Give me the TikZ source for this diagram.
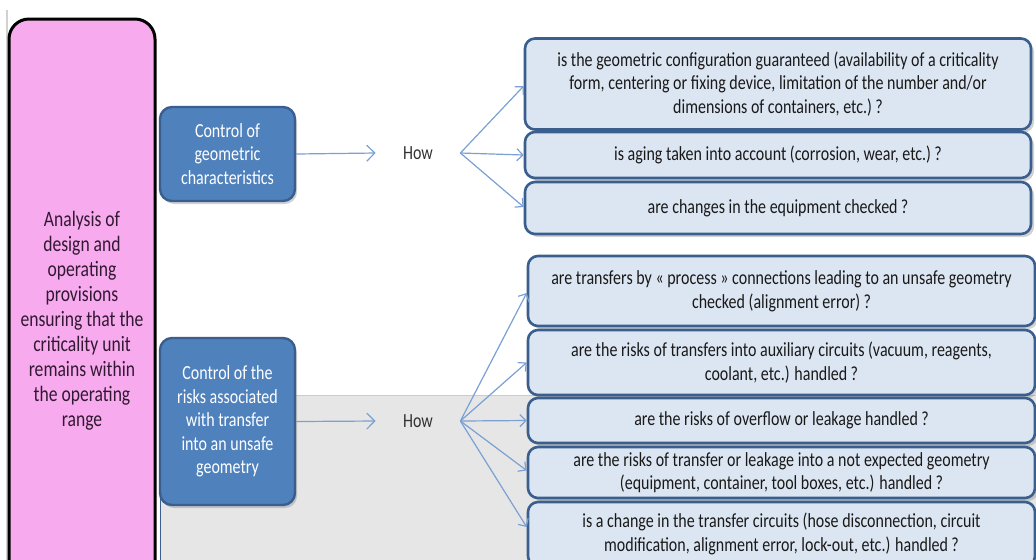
\documentclass[tikz,border=0pt]{standalone}
\usepackage{fontspec}
\setmainfont{Carlito}[FakeStretch=0.8]
\usetikzlibrary{arrows.meta,shadows}
\definecolor{pinkbox}{RGB}{247,171,238}
\definecolor{pinktext}{RGB}{50,25,50}
\definecolor{bluebox}{RGB}{79,129,189}
\definecolor{blueline}{RGB}{58,95,142}
\definecolor{lightbox}{RGB}{220,230,242}
\definecolor{arrowblue}{RGB}{122,160,212}
\definecolor{grayarea}{RGB}{230,230,230}

\begin{document}
\begin{tikzpicture}[x=0.5pt,y=-0.5pt,
  control/.style={draw=blueline,line width=1.2pt,fill=bluebox,rounded corners=6pt,
    text=white,align=center,minimum width=67.5pt,inner sep=2pt,
    font=\fontsize{10}{11.7}\selectfont,
    drop shadow={shadow xshift=1pt,shadow yshift=-1.5pt,opacity=0.35}},
  question/.style={draw=blueline,line width=1.3pt,fill=lightbox,rounded corners=5pt,
    align=center,inner sep=1pt,font=\fontsize{10}{11.8}\selectfont,text=black!90,
    drop shadow={shadow xshift=1.5pt,shadow yshift=-1.5pt,opacity=0.35}},
  fan/.style={arrowblue,line width=0.6pt,-{Straight Barb[length=3pt,width=6pt]}},
  ahead/.style={arrowblue,line width=0.6pt,-{Straight Barb[length=4pt,width=8pt]}}]
\clip (0,0) rectangle (1036,559);
\fill[white] (0,0) rectangle (1036,559);
\fill[grayarea] (160,395) rectangle (1036,570);
\draw[black!20,line width=0.5pt] (160,395)--(1036,395);
\draw[blueline,line width=0.6pt] (160.5,395)--(160.5,570);
\draw[black!18,line width=1pt] (7,10)--(7,570);
\node[draw=black,line width=1.5pt,fill=pinkbox,rounded corners=10pt,text=pinktext,
  align=center,minimum width=73pt,minimum height=302pt,
  font=\fontsize{11}{12.5}\selectfont] (analysis) at (82,321)
  {Analysis of\\design and\\operating\\provisions\\ensuring that the\\criticality unit\\remains within\\the operating\\range};
\node[control,minimum height=47pt] (geom) at (227.5,154)
  {Control of\\geometric\\characteristics};
\node[control,minimum height=83.5pt] (risk) at (227.5,421.5)
  {Control of the\\risks associated\\with transfer\\into an unsafe\\geometry};
\node[text=black!80,minimum width=42pt,inner sep=0pt,font=\fontsize{10}{12}\selectfont] (how1) at (418,153) {How};
\node[text=black!80,minimum width=42pt,inner sep=0pt,font=\fontsize{10}{12}\selectfont] (how2) at (418,421) {How};
\node[question,minimum width=253pt,minimum height=45.5pt] (q1) at (778,84)
  {is the geometric configuration guaranteed (availability of a criticality\\form, centering or fixing device, limitation of the number and/or\\dimensions of containers, etc.)\,?};
\node[question,minimum width=253pt,minimum height=23pt] (q2) at (778,155)
  {is aging taken into account (corrosion, wear, etc.)\,?};
\node[question,minimum width=253pt,minimum height=26pt] (q3) at (778,208)
  {are changes in the equipment checked\,?};
\node[question,minimum width=253.5pt,minimum height=35pt] (q4) at (781.5,291)
  {are transfers by « process » connections leading to an unsafe geometry\\checked (alignment error)\,?};
\node[question,minimum width=253.5pt,minimum height=32.5pt] (q5) at (781.5,362.5)
  {are the risks of transfers into auxiliary circuits (vacuum, reagents,\\coolant, etc.) handled\,?};
\node[question,minimum width=253.5pt,minimum height=22.5pt] (q6) at (781.5,420.5)
  {are the risks of overflow or leakage handled\,?};
\node[question,minimum width=253.5pt,minimum height=25.5pt] (q7) at (781.5,472.5)
  {are the risks of transfer or leakage into a not expected geometry\\(equipment, container, tool boxes, etc.) handled\,?};
\node[question,minimum width=253.5pt,minimum height=32pt] (q8) at (781.5,534)
  {is a change in the transfer circuits (hose disconnection, circuit\\modification, alignment error, lock-out, etc.) handled\,?};
\draw[ahead] (geom.east)--(how1.west);
\draw[ahead] (risk.east)--(how2.west);
\draw[fan] (how1.east)--([yshift=-1pt]q1.west);
\draw[fan] (how1.east)--(q2.west);
\draw[fan] (how1.east)--([yshift=0.5pt]q3.west);
\draw[fan] (how2.east)--([yshift=-1pt]q4.west);
\draw[fan] (how2.east)--(q5.west);
\draw[fan] (how2.east)--(q6.west);
\draw[fan] (how2.east)--([yshift=1pt]q7.west);
\draw[fan] (how2.east)--([yshift=3.5pt]q8.west);
\end{tikzpicture}
\end{document}
